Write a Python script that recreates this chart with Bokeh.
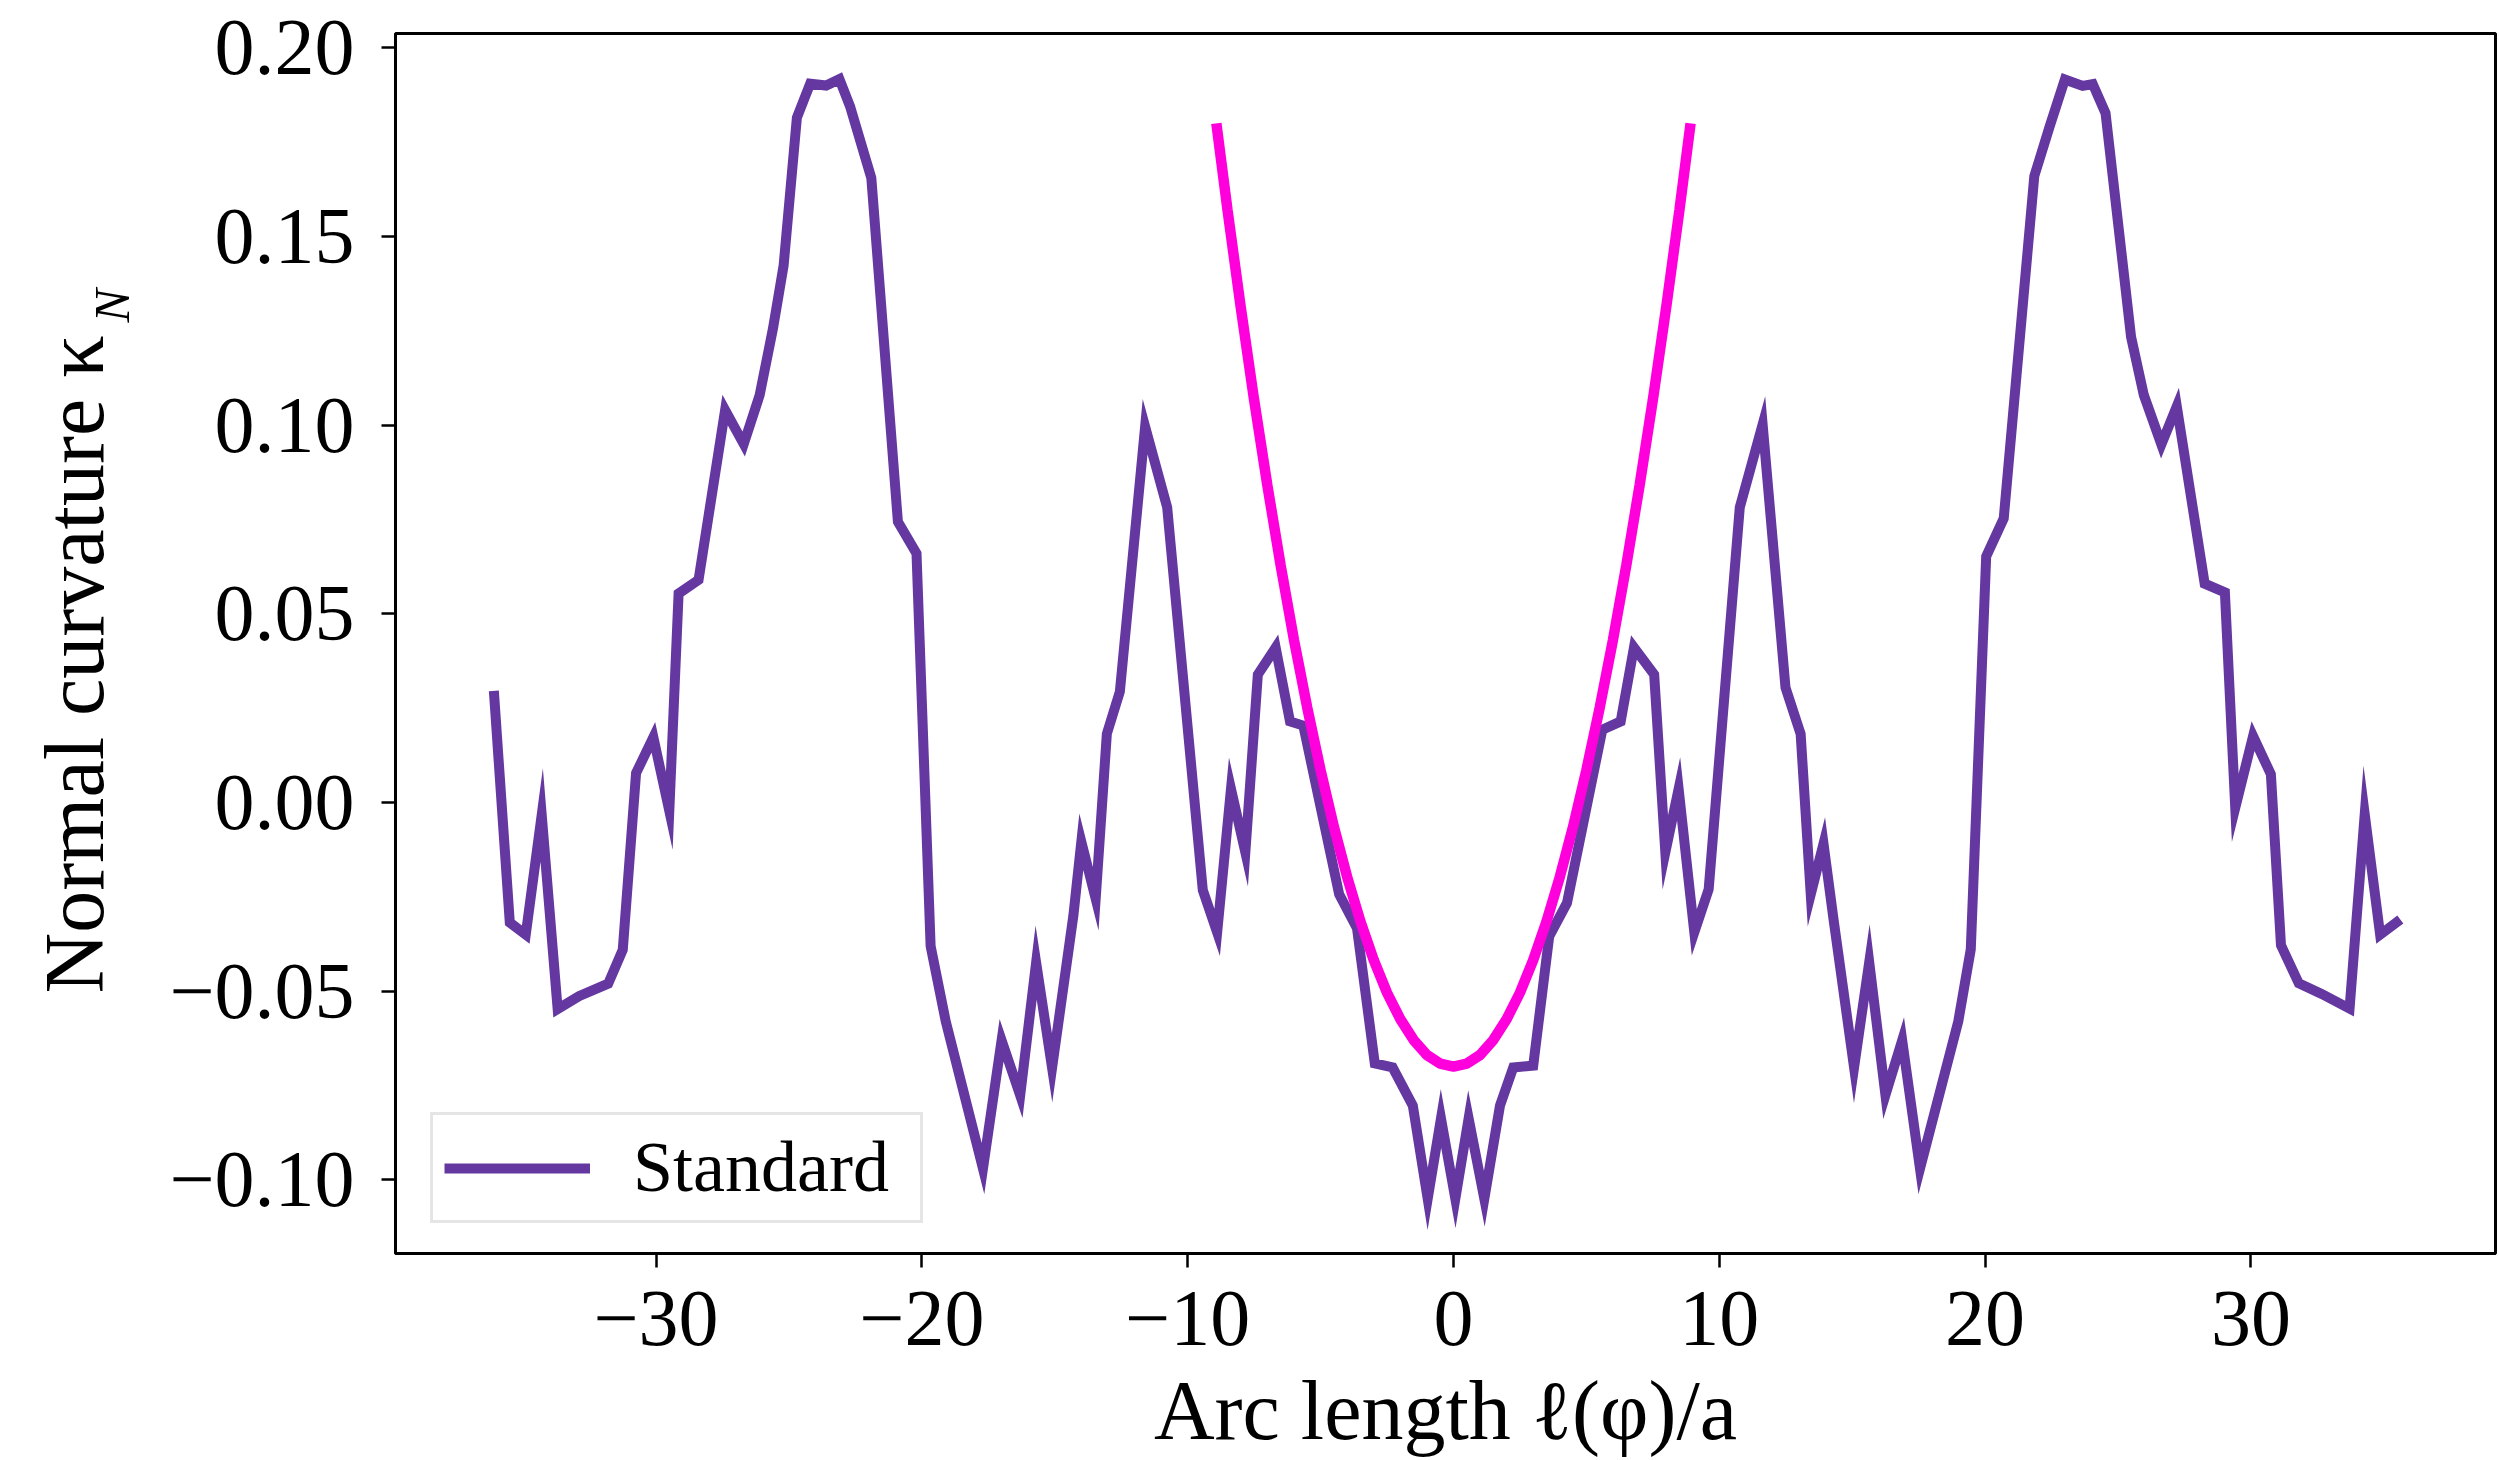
import math
from bokeh.plotting import figure
from bokeh.models import FixedTicker, Range1d, Label, CustomJSTickFormatter
from bokeh.embed import file_html
from bokeh.resources import INLINE

# ---- data ----
standard_x = [-36.1, -35.5, -34.9, -34.3, -33.7, -32.9, -31.8, -31.25, -30.75, -30.1,
              -29.5, -29.15, -28.4, -27.4, -26.7, -26.1, -25.6, -25.2, -24.7, -24.2,
              -23.6, -23.1, -22.7, -21.9, -20.9, -20.2, -19.67, -19.1, -17.7, -17.0,
              -16.3, -15.7, -15.1, -14.3, -14.0, -13.46, -13.04, -12.55, -11.6, -10.77,
              -9.43, -8.89, -8.37, -7.83, -7.36, -6.69, -6.15, -5.65, -4.3, -3.63,
              -2.96, -2.29, -1.53, -0.97, -0.47, 0.07, 0.57, 1.16, 1.75, 2.25,
              3.0, 3.6, 4.27, 5.6, 6.29, 6.79, 7.55, 7.97, 8.47, 9.06,
              9.6, 10.77, 11.63, 12.49, 13.06, 13.44, 13.92, 14.30, 15.07, 15.64,
              16.25, 16.88, 17.55, 18.99, 19.46, 20.04, 20.7, 21.85, 22.43, 23.0,
              23.67, 24.05, 24.53, 25.49, 25.97, 26.63, 27.21, 28.26, 29.02, 29.41,
              30.08, 30.75, 31.13, 31.8, 32.66, 33.71, 34.28, 34.86, 35.62]
standard_y = [0.0296, -0.0318, -0.0350, -0.0033, -0.0547, -0.0513, -0.0480, -0.0390, 0.0078, 0.0173,
              -0.0022, 0.0554, 0.0590, 0.1040, 0.0950, 0.1080, 0.1256, 0.1423, 0.1815, 0.1905,
              0.1900, 0.1917, 0.1845, 0.1655, 0.0744, 0.0660, -0.0380, -0.0580, -0.0970, -0.0630,
              -0.0776, -0.0424, -0.0703, -0.0300, -0.0104, -0.0255, 0.0182, 0.0294, 0.0996, 0.0782,
              -0.0232, -0.0344, 0.0036, -0.0132, 0.0339, 0.0411, 0.0215, 0.0204, -0.0243, -0.0333,
              -0.0691, -0.0702, -0.0803, -0.1050, -0.0837, -0.1050, -0.0837, -0.1050, -0.0803, -0.0702,
              -0.0697, -0.0355, -0.0266, 0.0193, 0.0215, 0.0411, 0.0339, -0.0132, 0.0036, -0.0344,
              -0.0230, 0.0782, 0.1002, 0.0305, 0.0182, -0.0243, -0.0109, -0.0311, -0.0702, -0.0423,
              -0.0775, -0.0630, -0.0970, -0.0580, -0.0389, 0.0652, 0.0753, 0.1660, 0.1792, 0.1916,
              0.1899, 0.1904, 0.1827, 0.1234, 0.1080, 0.0949, 0.1050, 0.0580, 0.0557, -0.0014,
              0.0176, 0.0075, -0.0378, -0.0479, -0.0507, -0.0546, -0.0031, -0.0350, -0.0310]

fit_x = [-8.92, -8.5, -8.0, -7.5, -7.0, -6.5, -6.0, -5.5, -5.0, -4.5, -4.0, -3.5, -3.0,
         -2.5, -2.0, -1.5, -1.0, -0.5, 0.0, 0.5, 1.0, 1.5, 2.0, 2.5, 3.0, 3.5, 4.0,
         4.5, 5.0, 5.5, 6.0, 6.5, 7.0, 7.5, 8.0, 8.5, 8.92]
fit_y = [0.1800, 0.1570, 0.1311, 0.1067, 0.0840, 0.0628, 0.0431, 0.0251, 0.0086, -0.0064,
         -0.0197, -0.0315, -0.0417, -0.0504, -0.0574, -0.0629, -0.0669, -0.0692, -0.0700,
         -0.0692, -0.0669, -0.0629, -0.0574, -0.0504, -0.0417, -0.0315, -0.0197, -0.0064,
         0.0086, 0.0251, 0.0431, 0.0628, 0.0840, 0.1067, 0.1311, 0.1570, 0.1800]

x_ticks = [-30, -20, -10, 0, 10, 20, 30]
y_ticks = [-0.10, -0.05, 0.00, 0.05, 0.10, 0.15, 0.20]

legend_text = "Standard"
xlabel_text = "Arc length ℓ(φ)/a"
ylabel_text = "Normal curvature κ\u00a0\u00a0"
ylabel_sub = "N"

PURPLE = "#6438a0"
MAGENTA = "#ff00dd"
FONT = "Liberation Serif"

p = figure(width=2499, height=1460, output_backend="svg", toolbar_location=None,
           title=None,
           x_range=Range1d(-39.8, 39.2), y_range=Range1d(-0.1195, 0.2038),
           min_border_left=395, min_border_right=4, min_border_top=29, min_border_bottom=207)

p.background_fill_color = "white"
p.border_fill_color = "white"
p.xgrid.visible = False
p.ygrid.visible = False
p.outline_line_color = "black"
p.outline_line_width = 3
p.outline_line_alpha = 1.0

p.line(standard_x, standard_y, line_color=PURPLE, line_width=10, legend_label=legend_text,
       line_join="miter")
p.line(fit_x, fit_y, line_color=MAGENTA, line_width=10.5)

for ax in (p.xaxis[0], p.yaxis[0]):
    ax.axis_line_color = "black"
    ax.axis_line_width = 3
    ax.major_tick_line_color = "black"
    ax.major_tick_line_width = 2.5
    ax.major_tick_out = 14
    ax.major_tick_in = 0
    ax.minor_tick_line_color = None
    ax.major_label_text_font = FONT
    ax.major_label_text_font_size = "80px"
    ax.major_label_text_color = "black"
    ax.axis_label_text_font = FONT
    ax.axis_label_text_font_size = "84px"
    ax.axis_label_text_font_style = "normal"
    ax.axis_label_text_color = "black"

p.xaxis.ticker = FixedTicker(ticks=x_ticks)
p.yaxis.ticker = FixedTicker(ticks=y_ticks)
p.xaxis.formatter = CustomJSTickFormatter(
    code="return (tick < -1e-9 ? '\u2212' : '') + Math.abs(tick).toFixed(0);")
p.yaxis.formatter = CustomJSTickFormatter(
    code="return (tick < -1e-9 ? '\u2212' : '') + Math.abs(tick).toFixed(2);")
p.xaxis.major_label_standoff = 24
p.yaxis.major_label_standoff = 27
p.xaxis.axis_label = xlabel_text
p.yaxis.axis_label = ylabel_text
p.xaxis.axis_label_standoff = 16
p.yaxis.axis_label_standoff = 45

# subscript of kappa, drawn in the top border panel (data coordinates outside the frame)
p.add_layout(Label(x=-50.45, y=0.1272, x_units="data", y_units="data", text=ylabel_sub,
                   angle=math.pi / 2, text_font=FONT, text_font_size="50px",
                   text_font_style="italic",
                   text_color="black", text_align="left", text_baseline="alphabetic"), "above")

lg = p.legend[0]
lg.location = (35, 30)
lg.margin = 0
lg.padding = 11
lg.spacing = 0
lg.glyph_width = 146
lg.glyph_height = 40
lg.label_standoff = 43
lg.label_width = 276
lg.label_text_font = FONT
lg.label_text_font_size = "72px"
lg.label_text_color = "black"
lg.border_line_color = "#cccccc"
lg.border_line_width = 3
lg.background_fill_color = "white"
lg.background_fill_alpha = 0.8

open("out.html", "w").write(file_html(p, INLINE))
